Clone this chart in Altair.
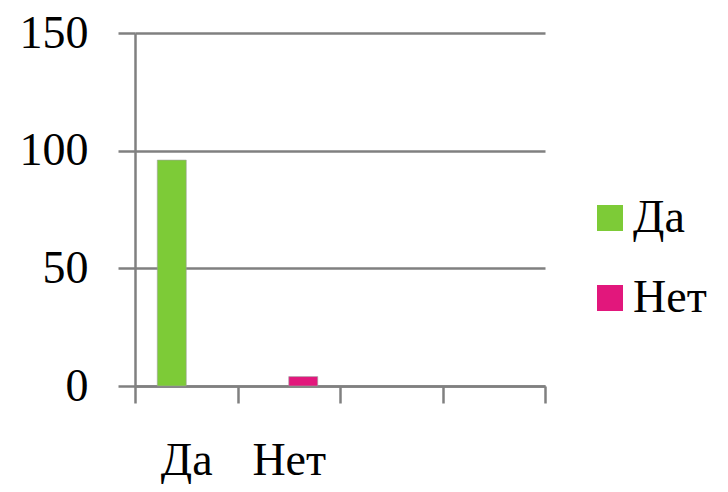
import altair as alt
import pandas as pd

categories = ["Да", "Нет", " ", "  "]
series = ["Да", "Нет"]
bar_category = ["Да", "Нет"]
values = [96, 4]
colors = ["#7DCB37", "#E2177C"]
y_ticks = [0, 50, 100, 150]

df = pd.DataFrame({"category": bar_category, "series": series, "value": values})

FONT = "Liberation Serif"
GRID = "#808080"

chart = alt.Chart(df).mark_bar(stroke="#a0a0a0", strokeWidth=0.6).encode(
    x=alt.X(
        "category:N",
        sort=categories,
        scale=alt.Scale(domain=categories, paddingInner=0, paddingOuter=0),
        axis=alt.Axis(
            title=None, labelAngle=0, tickBand="extent", tickSize=17, tickWidth=2.5,
            tickColor=GRID, domainColor=GRID, domainWidth=2.5,
            labelFontSize=46, labelFont=FONT, labelColor="black", labelPadding=35,
            grid=False,
        ),
    ),
    xOffset=alt.XOffset(
        "series:N", sort=series,
        scale=alt.Scale(domain=series, paddingInner=0, paddingOuter=0.77),
    ),
    y=alt.Y(
        "value:Q",
        scale=alt.Scale(domain=[0, 150], nice=False),
        axis=alt.Axis(
            values=y_ticks, title=None, tickSize=17, tickWidth=2.5, tickColor=GRID,
            domainColor=GRID, domainWidth=2.5, gridColor=GRID, gridWidth=2.5,
            labelFontSize=46, labelFont=FONT, labelColor="black", labelPadding=30,
        ),
    ),
    color=alt.Color(
        "series:N",
        scale=alt.Scale(domain=series, range=colors),
        legend=alt.Legend(
            title=None, orient="none", legendX=452, legendY=162,
            symbolType="square", symbolSize=676, symbolStrokeWidth=0,
            labelFontSize=46, labelFont=FONT, labelColor="black",
            rowPadding=34, labelOffset=0,
        ),
    ),
).properties(
    width=410,
    height=353,
    autosize=alt.AutoSizeParams(type="none"),
    padding={"left": 127, "top": 25, "right": 175, "bottom": 98},
).configure_view(stroke=None)

chart.save("out.html", embed_options={"renderer": "svg", "actions": False})
